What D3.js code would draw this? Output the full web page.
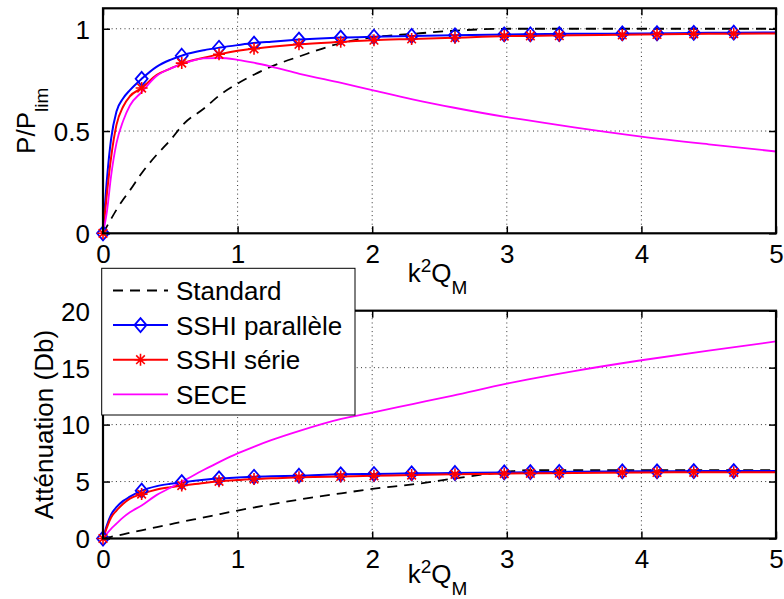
<!DOCTYPE html>
<html><head><meta charset="utf-8">
<script src="https://cdn.jsdelivr.net/npm/d3@7"></script>
<style>
html,body{margin:0;padding:0;background:#fff;}
svg text{font-family:"Liberation Sans",Arial,Helvetica,sans-serif;fill:#000;}
</style></head>
<body>
<svg id="chart" width="784" height="599"></svg>
<script>
// ---------- data ----------
const xTicks = [0, 1, 2, 3, 4, 5];
const yTicksTop = [0, 0.5, 1];
const yTickLabelsTop = ["0", "0.5", "1"];
const yTicksBottom = [0, 5, 10, 15, 20];
const seriesNames = ["Standard", "SSHI parallèle", "SSHI série", "SECE"];

const curveX = [0, 0.03, 0.06, 0.1, 0.15, 0.2, 0.287, 0.4, 0.5, 0.6, 0.75, 0.87, 1.0, 1.12, 1.25, 1.46, 1.77, 2.0, 2.3, 2.6, 3.0, 3.15, 3.5, 4.0, 4.5, 5.0];

// top : P/Plim
const topStandard = [0, 0.035, 0.07, 0.115, 0.165, 0.21, 0.294, 0.385, 0.455, 0.535, 0.61, 0.677, 0.732, 0.775, 0.815, 0.865, 0.93, 0.958, 0.975, 0.99, 1.0, 1.0, 1.0, 1.0, 1.0, 1.0];
const topParallel = [0, 0.27, 0.46, 0.595, 0.66, 0.70, 0.755, 0.815, 0.848, 0.872, 0.895, 0.908, 0.920, 0.930, 0.937, 0.947, 0.957, 0.961, 0.965, 0.968, 0.972, 0.973, 0.975, 0.977, 0.980, 0.982];
const topSerie = [0, 0.2, 0.37, 0.53, 0.62, 0.67, 0.71, 0.775, 0.805, 0.833, 0.858, 0.876, 0.892, 0.903, 0.912, 0.924, 0.936, 0.944, 0.950, 0.956, 0.964, 0.965, 0.968, 0.972, 0.975, 0.977];
const topSECE = [0, 0.11, 0.28, 0.44, 0.55, 0.625, 0.69, 0.77, 0.805, 0.83, 0.855, 0.857, 0.848, 0.834, 0.815, 0.78, 0.735, 0.70, 0.655, 0.615, 0.568, 0.553, 0.518, 0.473, 0.435, 0.40];

// bottom : attenuation (Db)
const botStandard = [0, 0.08, 0.15, 0.25, 0.37, 0.5, 0.72, 1.0, 1.25, 1.5, 1.85, 2.15, 2.45, 2.72, 3.0, 3.42, 3.97, 4.35, 4.75, 5.25, 5.86, 6.0, 6.0, 6.0, 6.0, 6.0];
const botParallel = [0, 1.2, 2.1, 2.75, 3.3, 3.67, 4.2, 4.6, 4.8, 4.95, 5.15, 5.28, 5.36, 5.42, 5.46, 5.51, 5.63, 5.66, 5.72, 5.75, 5.8, 5.82, 5.85, 5.9, 5.92, 5.93];
const botSerie = [0, 1.0, 1.85, 2.45, 3.05, 3.5, 3.9, 4.3, 4.5, 4.65, 4.88, 5.02, 5.13, 5.22, 5.28, 5.37, 5.45, 5.5, 5.57, 5.63, 5.7, 5.72, 5.75, 5.8, 5.81, 5.82];
const botSECE = [0, 0.45, 0.85, 1.3, 1.85, 2.3, 2.9, 3.83, 4.45, 5.08, 6.03, 6.75, 7.47, 8.05, 8.63, 9.45, 10.5, 11.05, 11.8, 12.55, 13.6, 13.95, 14.7, 15.65, 16.5, 17.3];

// markers
const markerX = [0, 0.287, 0.585, 0.862, 1.122, 1.456, 1.766, 2.013, 2.293, 2.615, 2.981, 3.175, 3.39, 3.858, 4.116, 4.389, 4.686];
const topParallelMk = [0, 0.755, 0.868, 0.907, 0.927, 0.947, 0.957, 0.961, 0.965, 0.968, 0.972, 0.973, 0.974, 0.977, 0.978, 0.980, 0.981];
const topSerieMk = [0, 0.71, 0.832, 0.875, 0.902, 0.924, 0.936, 0.944, 0.950, 0.956, 0.964, 0.965, 0.966, 0.970, 0.972, 0.975, 0.976];
const botParallelMk = [0, 4.2, 4.95, 5.28, 5.42, 5.51, 5.63, 5.66, 5.72, 5.75, 5.8, 5.82, 5.84, 5.89, 5.9, 5.92, 5.92];
const botSerieMk = [0, 3.9, 4.65, 5.02, 5.22, 5.37, 5.45, 5.5, 5.57, 5.63, 5.7, 5.72, 5.73, 5.79, 5.8, 5.81, 5.81];

// ---------- drawing ----------
const svg = d3.select("#chart");
const FS = 26, FS_SMALL = 19;
const colors = {std: "#000", par: "#0000ff", ser: "#ff0000", sece: "#ff00ff"};

const x = d3.scaleLinear().domain([0, 5]).range([103, 776]);
const yTop = d3.scaleLinear().domain([0, 1.1]).range([233.3, 8.3]);
const yBot = d3.scaleLinear().domain([0, 20]).range([538.5, 310.7]);

function diamond(g, cx, cy, col) {
  g.append("path").attr("d", `M${cx},${cy-7}L${cx+6},${cy}L${cx},${cy+7}L${cx-6},${cy}Z`)
    .attr("fill", "none").attr("stroke", col).attr("stroke-width", 1.8);
}
function star(g, cx, cy, col) {
  const r = 6, d = 4.3;
  g.append("path").attr("d",
    `M${cx-r},${cy}L${cx+r},${cy}M${cx},${cy-r}L${cx},${cy+r}M${cx-d},${cy-d}L${cx+d},${cy+d}M${cx-d},${cy+d}L${cx+d},${cy-d}`)
    .attr("fill", "none").attr("stroke", col).attr("stroke-width", 1.6);
}

function panel(id, y, yTicks, yLabels, series) {
  const g = svg.append("g");
  const [x0, x1] = x.range();
  const [yb, yt] = y.range();
  g.append("clipPath").attr("id", id).append("rect")
    .attr("x", x0).attr("y", yt).attr("width", x1 - x0).attr("height", yb - yt);
  // grid
  const grid = g.append("g").attr("stroke", "#333").attr("stroke-width", 1).attr("stroke-dasharray", "1,3.3");
  xTicks.filter(t => t > 0 && t < 5).forEach(t => {
    grid.append("line").attr("x1", x(t)).attr("x2", x(t)).attr("y1", yb).attr("y2", yt);
  });
  yTicks.filter(t => t > y.domain()[0] && y(t) > yt + 1).forEach(t => {
    grid.append("line").attr("x1", x0).attr("x2", x1).attr("y1", y(t)).attr("y2", y(t));
  });
  // axes (ticks inward)
  const axB = d3.axisBottom(x).tickValues(xTicks).tickSize(-7).tickPadding(12).tickFormat(d3.format("d"));
  const axT = d3.axisTop(x).tickValues(xTicks).tickSize(-7).tickFormat("");
  const axL = d3.axisLeft(y).tickValues(yTicks).tickSize(-7).tickPadding(13).tickFormat((d, i) => yLabels[i]);
  const axR = d3.axisRight(y).tickValues(yTicks).tickSize(-7).tickFormat("");
  const gb = g.append("g").attr("transform", `translate(0,${yb})`).call(axB);
  const gt = g.append("g").attr("transform", `translate(0,${yt})`).call(axT);
  const gl = g.append("g").attr("transform", `translate(${x0},0)`).call(axL);
  const gr = g.append("g").attr("transform", `translate(${x1},0)`).call(axR);
  [gb, gt, gl, gr].forEach(a => {
    a.select(".domain").remove();
    a.selectAll(".tick line").attr("stroke", "#000").attr("stroke-width", 1.5);
    a.selectAll("text").attr("font-size", FS).attr("font-family", "Liberation Sans, Arial, sans-serif").attr("fill", "#000");
  });
  gb.selectAll("text").attr("dy", "0.68em");
  gl.selectAll("text").attr("dy", "0.36em");
  // lines + markers
  const lg = g.append("g").attr("clip-path", `url(#${id})`);
  series.forEach(s => {
    const line = d3.line().x((d, i) => x(curveX[i])).y(d => y(d)).curve(d3.curveMonotoneX);
    lg.append("path").datum(s.values).attr("d", line).attr("fill", "none")
      .attr("stroke", s.color).attr("stroke-width", s.w)
      .attr("stroke-dasharray", s.dash || null);
    if (s.mk) {
      const mg = g.append("g");
      s.mk.forEach((v, i) => s.shape(mg, x(markerX[i]), y(v), s.color));
    }
  });
  // frame
  g.append("rect").attr("x", x0).attr("y", yt).attr("width", x1 - x0).attr("height", yb - yt)
    .attr("fill", "none").attr("stroke", "#000").attr("stroke-width", 2.2);
  return g;
}

panel("clipTop", yTop, yTicksTop, yTickLabelsTop, [
  {values: topStandard, color: colors.std, w: 1.8, dash: "10,7"},
  {values: topParallel, color: colors.par, w: 2, mk: topParallelMk, shape: diamond},
  {values: topSerie, color: colors.ser, w: 2, mk: topSerieMk, shape: star},
  {values: topSECE, color: colors.sece, w: 1.8}
]);
panel("clipBot", yBot, yTicksBottom, yTicksBottom.map(String), [
  {values: botStandard, color: colors.std, w: 1.8, dash: "10,7"},
  {values: botParallel, color: colors.par, w: 2, mk: botParallelMk, shape: diamond},
  {values: botSerie, color: colors.ser, w: 2, mk: botSerieMk, shape: star},
  {values: botSECE, color: colors.sece, w: 1.8}
]);

// axis labels
function xLabel(yBase) {
  const t = svg.append("text").attr("x", (x.range()[0] + x.range()[1]) / 2 - 2).attr("y", yBase)
    .attr("text-anchor", "middle").attr("font-size", FS);
  t.append("tspan").text("k");
  t.append("tspan").attr("font-size", FS_SMALL).attr("dy", -10).text("2");
  t.append("tspan").attr("dy", 10).text("Q");
  t.append("tspan").attr("font-size", FS_SMALL).attr("dy", 12).text("M");
}
xLabel(282);
xLabel(583);

const yl1 = svg.append("text").attr("transform", `translate(35,${(yTop.range()[0] + yTop.range()[1]) / 2}) rotate(-90)`)
  .attr("text-anchor", "middle").attr("font-size", FS);
yl1.append("tspan").text("P/P");
yl1.append("tspan").attr("font-size", FS_SMALL).attr("dy", 13).text("lim");

svg.append("text").attr("transform", `translate(53,${(yBot.range()[0] + yBot.range()[1]) / 2}) rotate(-90)`)
  .attr("text-anchor", "middle").attr("font-size", FS).text("Atténuation (Db)");

// legend
const leg = svg.append("g");
leg.append("rect").attr("x", 101.7).attr("y", 268.3).attr("width", 253.3).attr("height", 146.7)
  .attr("fill", "#fff").attr("stroke", "#000").attr("stroke-width", 1);
const legStyles = [
  {color: colors.std, w: 1.8, dash: "10,7"},
  {color: colors.par, w: 2, shape: diamond},
  {color: colors.ser, w: 2, shape: star},
  {color: colors.sece, w: 1.8}
];
seriesNames.forEach((name, i) => {
  const cy = 290.5 + i * 34.6;
  const s = legStyles[i];
  leg.append("line").attr("x1", 113).attr("x2", 168).attr("y1", cy).attr("y2", cy)
    .attr("stroke", s.color).attr("stroke-width", s.w).attr("stroke-dasharray", s.dash || null);
  if (s.shape) s.shape(leg, 140.5, cy, s.color);
  leg.append("text").attr("x", 176).attr("y", cy + 9.5).attr("font-size", FS).text(name);
});
</script>
</body></html>
